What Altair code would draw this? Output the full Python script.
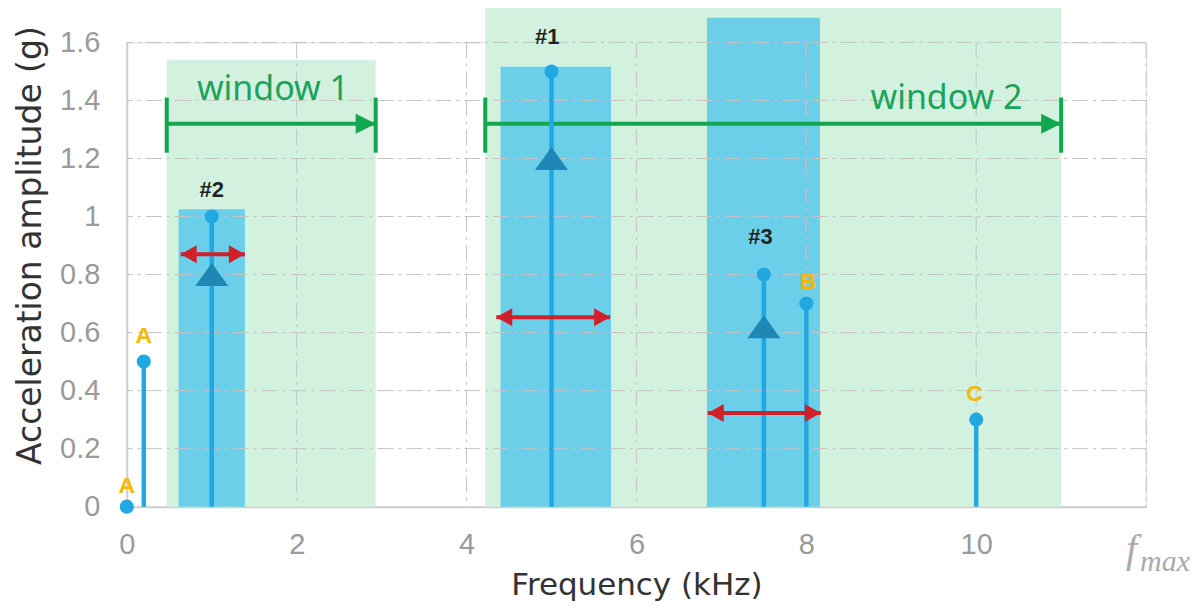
import altair as alt
import pandas as pd

# ---------------- data ----------------
stem_freq = [0.0, 0.2, 1.0, 5.0, 7.5, 8.0, 10.0]
stem_amp = [0.0, 0.5, 1.0, 1.5, 0.8, 0.7, 0.3]

win_name = ["window 1", "window 2"]
win_start = [0.47, 4.22]
win_end = [2.93, 11.0]
win_top = [1.54, 1.72]
win_arrow_y = [1.32, 1.32]
win_cap_lo = [1.22, 1.22]
win_cap_hi = [1.41, 1.41]
win_label_x = [1.72, 9.65]
win_label_y = [1.40, 1.37]

band_start = [0.61, 4.40, 6.83]
band_end = [1.39, 5.70, 8.16]
band_top = [1.025, 1.516, 1.685]

peak_name = ["#2", "#1", "#3"]
peak_label_x = [1.0, 4.95, 7.46]
peak_label_y = [1.066, 1.595, 0.907]
tri_x = [1.0, 5.0, 7.5]
tri_y = [0.80, 1.20, 0.62]
red_start = [0.635, 4.35, 6.84]
red_end = [1.39, 5.69, 8.17]
red_y = [0.87, 0.653, 0.323]

letter_text = ["A", "A", "B", "C"]
letter_x = [0.0, 0.2, 8.02, 9.98]
letter_y = [0.048, 0.564, 0.75, 0.365]

x_ticks = [0, 2, 4, 6, 8, 10, 12]
y_ticks = [0, 0.2, 0.4, 0.6, 0.8, 1.0, 1.2, 1.4, 1.6]
fmax_x = [12]
fmax_y = [0]

# ---------------- styles ----------------
GREEN_FILL = "#d3f1df"
BAND = "#6ccfe9"
STEM = "#22a8e0"
TRI = "#1e87b5"
RED = "#d0202a"
GREEN = "#12a64f"
GREEN_TXT = "#1aa35a"
ORANGE = "#f5b800"
FONT = "Liberation Sans"
TFONT = "DejaVu Sans"
WFONT = "Noto Sans"
GRID = "#c4c4c4"
DASH = [16, 5, 3, 5]

xs = alt.Scale(domain=[0, 12], nice=False, zero=False)
ys = alt.Scale(domain=[0, 1.6], nice=False, zero=False)

xaxis = alt.Axis(
    values=x_ticks, labelExpr="datum.value == 12 ? '' : datum.label",
    grid=False, ticks=False, tickSize=0, domainColor="#cfcfcf", domainWidth=2,
    labelColor="#9a9a9a", labelFontSize=29, labelFont=FONT, labelPadding=24,
    labelFlush=False, titleFont=TFONT, titleFontSize=31, titleFontWeight="normal",
    titleColor="#333333", titleY=88, titleBaseline="alphabetic",
)
yaxis = alt.Axis(
    values=y_ticks, format="~g",
    grid=False, ticks=False, tickSize=0, domainColor="#cfcfcf", domainWidth=2,
    labelColor="#9a9a9a", labelFontSize=29, labelFont=FONT, labelPadding=27,
    labelFlush=False, titleFont=TFONT, titleFontSize=33, titleFontWeight="normal",
    titleColor="#333333", titleX=-86, titleY=203, titleAngle=270,
    titleBaseline="alphabetic", titleAlign="center",
)


def X(f):
    return alt.X(f"{f}:Q", scale=xs, axis=xaxis, title="Frequency (kHz)")


def Y(f):
    return alt.Y(f"{f}:Q", scale=ys, axis=yaxis, title="Acceleration amplitude (g)")


win = pd.DataFrame({
    "name": win_name, "x0": win_start, "x1": win_end, "top": win_top,
    "base": [0.0] * len(win_name), "ay": win_arrow_y, "lo": win_cap_lo,
    "hi": win_cap_hi, "lx": win_label_x, "ly": win_label_y,
})
bands = pd.DataFrame({"x0": band_start, "x1": band_end, "top": band_top,
                      "base": [0.0] * len(band_start)})
stems = pd.DataFrame({"f": stem_freq, "a": stem_amp, "base": [0.0] * len(stem_freq)})
peaks = pd.DataFrame({"name": peak_name, "lx": peak_label_x, "ly": peak_label_y,
                      "tx": tri_x, "ty": tri_y, "r0": red_start, "r1": red_end,
                      "ry": red_y})
letters = pd.DataFrame({"t": letter_text, "x": letter_x, "y": letter_y})
fmax = pd.DataFrame({"x": fmax_x, "y": fmax_y})
xgrid = pd.DataFrame({"v": [v for v in x_ticks if v > 0]})
ygrid = pd.DataFrame({"v": [v for v in y_ticks if v > 0]})

HEAD_R = "M0,0L-1.6,-0.9L-1.6,0.9Z"
HEAD_L = "M0,0L1.6,-0.9L1.6,0.9Z"
GHEAD = "M0,0L-2,-1L-2,1Z"
TRI_UP = "M0,-0.7L1,0.7L-1,0.7Z"

w_base = alt.Chart(win)
layers = [
    w_base.mark_rect(color=GREEN_FILL).encode(x=X("x0"), x2="x1", y=Y("base"), y2="top"),
    alt.Chart(bands).mark_rect(color=BAND).encode(x=X("x0"), x2="x1", y=Y("base"), y2="top"),
    alt.Chart(xgrid).mark_rule(color=GRID, strokeWidth=1, strokeDash=DASH).encode(x=X("v")),
    alt.Chart(ygrid).mark_rule(color=GRID, strokeWidth=1, strokeDash=DASH).encode(y=Y("v")),
    w_base.mark_rule(color=GREEN, strokeWidth=4).encode(x=X("x0"), x2="x1", y=Y("ay")),
    w_base.mark_rule(color=GREEN, strokeWidth=4).encode(x=X("x0"), y=Y("lo"), y2="hi"),
    w_base.mark_rule(color=GREEN, strokeWidth=4).encode(x=X("x1"), y=Y("lo"), y2="hi"),
    w_base.mark_point(shape=GHEAD, size=400, filled=True, color=GREEN, opacity=1,
                      strokeWidth=0).encode(x=X("x1"), y=Y("ay")),
    w_base.mark_text(font=WFONT, fontSize=34, color=GREEN_TXT, align="center",
                     baseline="alphabetic").encode(x=X("lx"), y=Y("ly"), text="name:N"),
    alt.Chart(stems).mark_rule(color=STEM, strokeWidth=4.5).encode(x=X("f"), y=Y("base"), y2="a"),
    alt.Chart(stems).mark_circle(color=STEM, size=200, opacity=1).encode(x=X("f"), y=Y("a")),
    alt.Chart(peaks).mark_point(shape=TRI_UP, size=1090, filled=True, color=TRI, opacity=1,
                                strokeWidth=0).encode(x=X("tx"), y=Y("ty")),
    alt.Chart(peaks).mark_rule(color=RED, strokeWidth=4).encode(x=X("r0"), x2="r1", y=Y("ry")),
    alt.Chart(peaks).mark_point(shape=HEAD_L, size=400, filled=True, color=RED, opacity=1,
                                strokeWidth=0).encode(x=X("r0"), y=Y("ry")),
    alt.Chart(peaks).mark_point(shape=HEAD_R, size=400, filled=True, color=RED, opacity=1,
                                strokeWidth=0).encode(x=X("r1"), y=Y("ry")),
    alt.Chart(peaks).mark_text(font=FONT, fontSize=22, fontWeight="bold", color="#222222",
                               align="center", baseline="alphabetic").encode(
        x=X("lx"), y=Y("ly"), text="name:N"),
    alt.Chart(letters).mark_text(font=FONT, fontSize=23, fontWeight="bold", color=ORANGE,
                                 align="center", baseline="alphabetic").encode(
        x=X("x"), y=Y("y"), text="t:N"),
    alt.Chart(fmax).mark_text(text="f", font="Liberation Serif", fontSize=40,
                              fontStyle="italic", color="#aaaaaa", align="right",
                              baseline="alphabetic", dx=-9, dy=55).encode(x=X("x"), y=Y("y")),
    alt.Chart(fmax).mark_text(text="max", font="Liberation Serif", fontSize=30,
                              fontStyle="italic", color="#aaaaaa", align="left",
                              baseline="alphabetic", dx=-6, dy=64).encode(x=X("x"), y=Y("y")),
]

chart = alt.layer(*layers).properties(
    width=1021, height=465,
    padding={"left": 119, "top": 34, "right": 50, "bottom": 95},
    autosize=alt.AutoSizeParams(type="none"),
).configure_view(stroke=None).configure(background="white")

chart.save("out.html", embed_options={"renderer": "svg", "actions": False})
